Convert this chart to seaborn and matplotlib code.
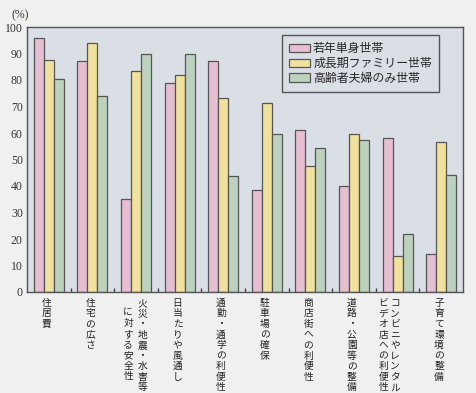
import matplotlib
matplotlib.use("Agg")
import matplotlib.pyplot as plt
import matplotlib.transforms as mtransforms
import seaborn as sns
import pandas as pd
import numpy as np

categories = ["住居費", "住宅の広さ", "火災・地震・水害等に対する安全性", "日当たりや風通し",
              "通勤・通学の利便性", "駐車場の確保", "商店街への利便性", "道路・公園等の整備",
              "コンビニやレンタルビデオ店への利便性", "子育て環境の整備"]
label_columns = [["住居費"], ["住宅の広さ"], ["火災・地震・水害等", "に対する安全性"],
                 ["日当たりや風通し"], ["通勤・通学の利便性"], ["駐車場の確保"],
                 ["商店街への利便性"], ["道路・公園等の整備"],
                 ["コンビニやレンタル", "ビデオ店への利便性"], ["子育て環境の整備"]]
series = ["若年単身世帯", "成長期ファミリー世帯", "高齢者夫婦のみ世帯"]
young = [96, 87, 35, 79, 87, 38.5, 61.3, 40, 58.2, 14.2]
family = [87.7, 94.1, 83.4, 81.8, 73.1, 71.2, 47.5, 59.6, 13.7, 56.5]
elderly = [80.5, 73.8, 90, 89.9, 43.8, 59.6, 54.5, 57.4, 22, 44]
yticks = [0, 10, 20, 30, 40, 50, 60, 70, 80, 90, 100]

df = pd.DataFrame({
    "cat": categories * 3,
    "series": [series[0]] * 10 + [series[1]] * 10 + [series[2]] * 10,
    "value": young + family + elderly,
})

sns.set_theme(style="white")
plt.rcParams['font.family'] = ['Noto Sans CJK JP', 'DejaVu Sans']

fig = plt.figure(figsize=(4.77, 3.93), dpi=100, facecolor="#f0f0f0")
ax = fig.add_axes([27/477, 1 - 292/393, 436/477, 265/393])
ax.set_facecolor("#dadfe6")

palette = ["#e6bfd3", "#f0e19c", "#bcd2bf"]
sns.barplot(data=df, x="cat", y="value", hue="series", order=categories,
            hue_order=series, palette=palette, width=0.69, ax=ax,
            edgecolor="#555555", linewidth=0.9, saturation=1, legend=True)

ax.set_ylim(0, 100)
ax.set_xlim(-0.5, len(categories) - 0.5)
ax.set_yticks(yticks)
ax.set_yticklabels([str(t) for t in yticks], family="Liberation Serif", fontsize=8.5, color="#333333")
ax.tick_params(axis="y", length=0, pad=3)
ax.set_xticks(np.arange(len(categories)))
ax.set_xticklabels([""] * len(categories))
ax.tick_params(axis="x", length=0)
ax.set_xticks(np.arange(len(categories) - 1) + 0.5, minor=True)
ax.tick_params(axis="x", which="minor", direction="in", length=3, color="#444444", bottom=True)
ax.set_xlabel("")
ax.set_ylabel("")
for s in ax.spines.values():
    s.set_color("#555555")
    s.set_linewidth(1.0)

trans = mtransforms.blended_transform_factory(ax.transData, ax.transAxes)
for i, cols in enumerate(label_columns):
    if len(cols) == 1:
        xs = [i - 0.05]
        ys = [-0.022]
    elif i == 2:
        xs = [i + 0.14, i - 0.18]
        ys = [-0.022, -0.06]
    else:
        xs = [i - 0.06, i - 0.33]
        ys = [-0.022, -0.022]
    for col, x, y in zip(cols, xs, ys):
        ax.text(x, y, "\n".join(col), transform=trans, ha="center", va="top",
                fontsize=7.0, linespacing=1.07, color="#222222")

fig.text(12/477, 1 - 15/393, "(%)", family="Liberation Serif", fontsize=8.5,
         color="#333333", va="center", ha="left")

leg = ax.legend(loc="upper left", bbox_to_anchor=(0.585, 0.97), fontsize=8.6,
                frameon=True, fancybox=False, handlelength=1.7, handleheight=0.7,
                handletextpad=0.3, labelspacing=0.15, borderpad=0.6, borderaxespad=0)
leg.get_frame().set_edgecolor("#555555")
leg.get_frame().set_facecolor("#dadfe6")
leg.get_frame().set_linewidth(1.0)
leg.get_frame().set_alpha(1)

fig.savefig("out.png", dpi=100, facecolor=fig.get_facecolor())
